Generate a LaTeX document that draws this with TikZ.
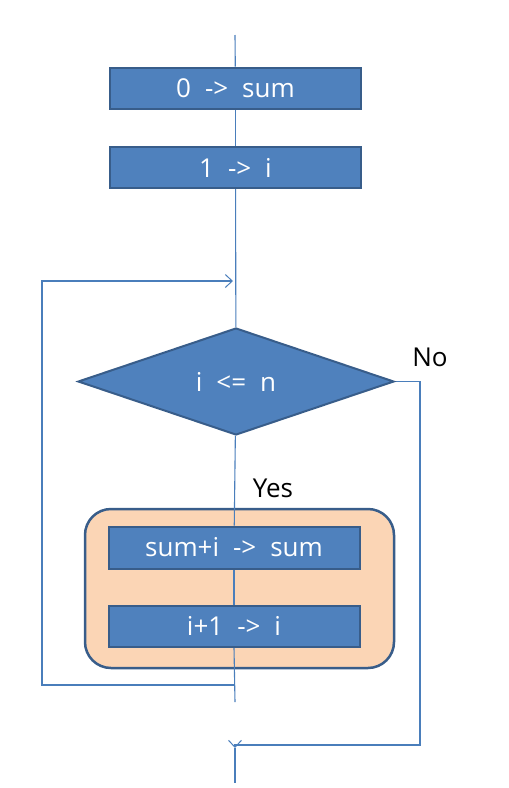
\documentclass[tikz,border=0pt]{standalone}
\usepackage{fontspec}
\setmainfont{Open Sans}
\usetikzlibrary{shapes.geometric,arrows.meta}
\definecolor{boxblue}{HTML}{4F81BD}
\definecolor{boxline}{HTML}{385D8A}
\definecolor{bodyfill}{HTML}{FBD5B5}
\definecolor{flowline}{HTML}{4A7EBB}
\pgfdeclarelayer{back}
\pgfdeclarelayer{lines}
\pgfsetlayers{back,lines,main}
\tikzset{
	procbox/.style={draw=boxline, fill=boxblue, line width=2pt, text=white,
		minimum width=251pt, minimum height=41pt, inner sep=0pt,
		font=\fontsize{26}{30}\selectfont},
	decide/.style={diamond, draw=boxline, fill=boxblue, line width=2pt, text=white,
		minimum width=316pt, minimum height=107pt, inner sep=0pt,
		font=\fontsize{26}{30}\selectfont},
	loopbody/.style={draw=boxline, fill=bodyfill, line width=2.5pt, rounded corners=26pt,
		minimum width=309pt, minimum height=159pt},
	flow/.style={draw=flowline, line width=1.1pt},
	tip/.style={-{Straight Barb[length=7pt,width=13pt,line width=1pt]}},
	answer/.style={font=\fontsize{26}{30}\selectfont}
}

\begin{document}
\begin{tikzpicture}[x=1pt, y=-1pt]
		%%%%% START %%%%%
		\useasboundingbox (0,0) rectangle (509,788);
		
		\node[procbox] (init sum) at (235.5, 88) {0 \;->\; sum};
		\node[procbox] (init i) at (235.5, 167.5) {1 \;->\; i};
		
		\node[decide] (test) at (236, 381.5) {i \;<=\; n};
		
		\begin{pgfonlayer}{back}
		\node[loopbody] (body) at (239.5, 588.5) {};
		\end{pgfonlayer}
		\node[procbox, minimum height=42pt] (add) at (234, 547.5) {sum+i \;->\; sum};
		\node[procbox, minimum height=41pt] (step i) at (234, 626) {i+1 \;->\; i};
		
		\node[answer] (no) at (430, 357) {No};
		\node[answer] (yes) at (273, 488) {Yes};
		
		\coordinate (top) at (235, 35);
		\coordinate (join) at (233, 281);
		\coordinate (back) at (235, 685);
		\coordinate (tail) at (235, 702);
		\coordinate (noturn) at (420, 745);
		\coordinate (merge) at (235, 748);
		\coordinate (bottom) at (235, 783);
		
		\begin{pgfonlayer}{lines}
		\draw[flow] (top) -- (init sum);
		\draw[flow] (init sum) -- (init i);
		\draw[flow] (init i) -- (test);
		\draw[flow] (test) -- (add);
		\draw[flow] (add) -- (step i);
		\draw[flow] (step i.south) -- (tail);
		
		% back to the test
		\draw[flow, tip] (back) -- (42, 685) |- (join);
		
		% leave the loop
		\draw[flow, tip] (test.east) -| (noturn) -- (merge |- noturn) -- (merge);
		\draw[flow] (merge) -- (bottom);
		\end{pgfonlayer}
		%%%%% END %%%%%
	\end{tikzpicture}
\end{document}
